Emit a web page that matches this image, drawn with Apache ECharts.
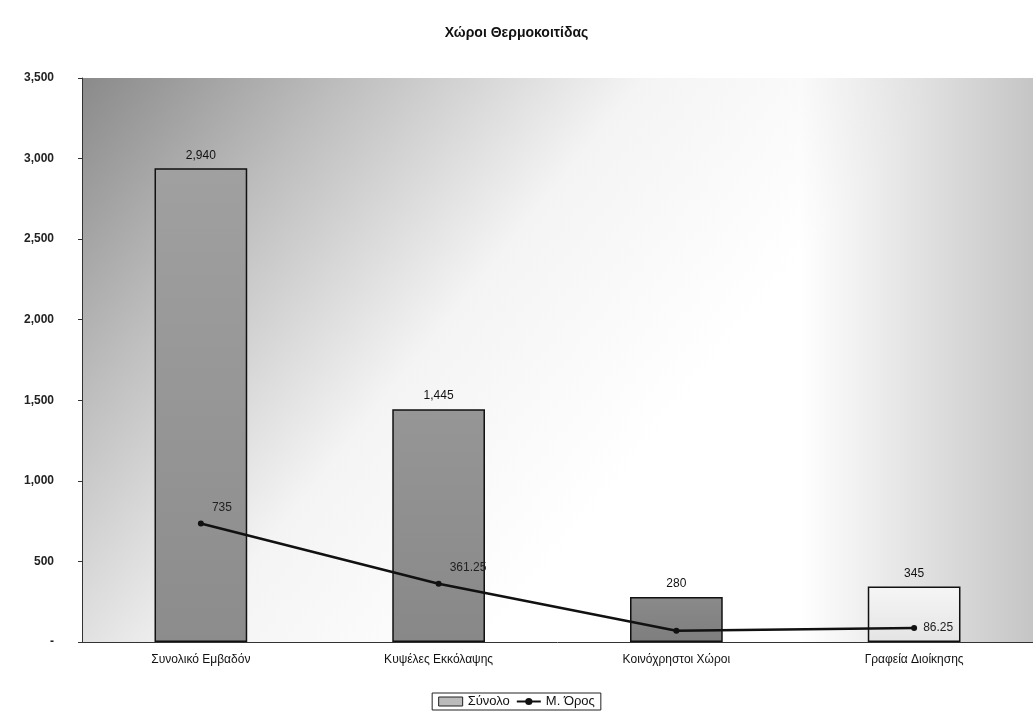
<!DOCTYPE html>
<html>
<head>
<meta charset="utf-8">
<script src="https://cdn.jsdelivr.net/npm/echarts@6/dist/echarts.min.js"></script>
<style>
  html, body { margin: 0; padding: 0; background: #fff; }
  #chart { width: 1033px; height: 713px; }
</style>
</head>
<body>
<div id="chart"></div>
<script>
const categories = ['Συνολικό Εμβαδόν', 'Κυψέλες Εκκόλαψης', 'Κοινόχρηστοι Χώροι', 'Γραφεία Διοίκησης']
const totals = [2940, 1445, 280, 345]
const averages = [735, 361.25, 70, 86.25]
const avgLabels = ['735', '361.25', '', '86.25']
// label offsets of the average line, as seen on the picture
const avgLabelOffsets = [[4, -16], [4, -16], [0, 0], [2, 0]]

const chart = echarts.init(document.getElementById('chart'))

const barColors = [
  { top: '#a0a0a0', bottom: '#8c8c8c' },
  { top: '#969696', bottom: '#888888' },
  { top: '#8a8a8a', bottom: '#7e7e7e' },
  { top: '#f6f6f6', bottom: '#e4e4e4' }
]

const option = {
  animation: false,
  textStyle: { fontFamily: 'Liberation Sans, Arial, sans-serif' },
  title: {
    text: 'Χώροι Θερμοκοιτίδας',
    left: 'center',
    top: 21,
    textStyle: { fontSize: 14, fontWeight: 'bold', color: '#111' }
  },
  grid: {
    left: 82,
    right: -17,
    top: 78,
    bottom: 71,
    show: true,
    borderWidth: 0,
    backgroundColor: {
      type: 'linear',
      x: 0, y: 0, x2: 0.55, y2: 0.75,
      colorStops: [
        { offset: 0, color: '#8a8a8a' },
        { offset: 0.3, color: '#bdbdbd' },
        { offset: 0.65, color: '#f4f4f4' },
        { offset: 1, color: '#ffffff' }
      ]
    }
  },
  graphic: [
    {
      type: 'rect',
      z: 1,
      silent: true,
      shape: { x: 800, y: 78, width: 233, height: 564 },
      style: {
        fill: {
          type: 'linear', x: 0, y: 0, x2: 1, y2: 0,
          colorStops: [
            { offset: 0, color: 'rgba(150,150,150,0)' },
            { offset: 1, color: 'rgba(150,150,150,0.55)' }
          ]
        }
      }
    }
  ],
  legend: {
    bottom: 3,
    left: 'center',
    itemGap: 6,
    itemWidth: 24,
    itemHeight: 9,
    borderColor: '#222',
    borderWidth: 1,
    padding: [2, 6],
    textStyle: { fontSize: 13, color: '#111' },
    data: [
      { name: 'Σύνολο', icon: 'rect', itemStyle: { color: '#bbb', borderColor: '#222', borderWidth: 1 } },
      { name: 'Μ. Όρος' }
    ]
  },
  xAxis: {
    type: 'category',
    data: categories,
    axisTick: { show: false },
    axisLine: { lineStyle: { color: '#333' } },
    axisLabel: { color: '#111', fontSize: 12, margin: 12 }
  },
  yAxis: {
    type: 'value',
    min: 0,
    max: 3500,
    interval: 500,
    splitLine: { show: false },
    axisLine: { show: true, lineStyle: { color: '#333' } },
    axisTick: { show: true, length: 4, lineStyle: { color: '#333' } },
    axisLabel: {
      color: '#222',
      fontSize: 12,
      fontWeight: 'bold',
      margin: 28,
      formatter: v => v === 0 ? '-' : v.toLocaleString('en-US')
    }
  },
  series: [
    {
      name: 'Σύνολο',
      type: 'bar',
      barWidth: '39%',
      z: 3,
      data: totals.map((v, i) => ({
        value: v,
        itemStyle: {
          color: {
            type: 'linear', x: 0, y: 0, x2: 0, y2: 1,
            colorStops: [
              { offset: 0, color: barColors[i].top },
              { offset: 1, color: barColors[i].bottom }
            ]
          }
        }
      })),
      itemStyle: { borderColor: '#111', borderWidth: 1.5 },
      label: {
        show: true,
        position: 'top',
        distance: 7,
        fontSize: 12,
        color: '#111',
        formatter: p => p.value.toLocaleString('en-US')
      }
    },
    {
      name: 'Μ. Όρος',
      type: 'line',
      z: 4,
      data: averages.map((v, i) => ({
        value: v,
        label: { offset: avgLabelOffsets[i] }
      })),
      symbol: 'circle',
      symbolSize: 6,
      lineStyle: { color: '#111', width: 2.5 },
      itemStyle: { color: '#111' },
      label: {
        show: true,
        position: 'right',
        distance: 4,
        fontSize: 12,
        color: '#222',
        formatter: p => avgLabels[p.dataIndex]
      }
    }
  ]
}

chart.setOption(option)
</script>
</body>
</html>
